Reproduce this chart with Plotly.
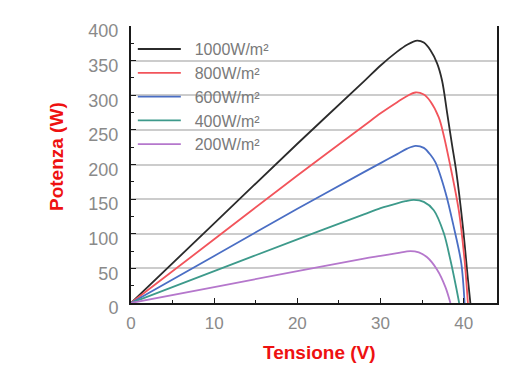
import plotly.graph_objects as go

labels = ["1000W/m²", "800W/m²", "600W/m²", "400W/m²", "200W/m²"]
colors = ["#2b2b2b", "#f2545b", "#4a6ec4", "#3d9a8b", "#b577cc"]

v_1000 = [0, 10, 20, 28, 30, 32, 33.2, 34.4, 35.2, 36.0, 36.8, 37.4, 38.0, 38.6, 39.1, 39.9, 40.5, 40.8]
p_1000 = [0, 115, 230, 320, 343, 363, 373, 379, 376, 365, 346, 321, 275, 228, 190, 110, 35, 0]

v_800 = [0, 10, 20, 28, 30, 32, 33.2, 34.2, 35.2, 36.0, 37.0, 37.6, 38.3, 39.4, 40.1, 40.5]
p_800 = [0, 92, 184, 256, 274, 290, 299, 304, 301, 291, 268, 242, 203, 134, 62, 0]

v_600 = [0, 10, 20, 28, 30, 32, 33.2, 34.2, 35.2, 36.0, 36.6, 37.8, 38.8, 39.7, 40.1]
p_600 = [0, 68, 136, 189, 202, 215, 223, 227, 224, 214, 203, 160, 110, 58, 0]

v_400 = [0, 10, 20, 28, 30, 32, 33.0, 34.0, 35.2, 36.4, 37.6, 38.4, 39.1, 39.45]
p_400 = [0, 46, 92, 128, 137, 144, 147, 149, 146, 134, 101, 62, 22, 0]

v_200 = [0, 10, 20, 28, 30, 32, 33.6, 34.6, 35.6, 36.8, 37.8, 38.4]
p_200 = [0, 23, 46, 64, 68, 72, 75, 73, 66, 48, 23, 0]

series = [(v_1000, p_1000), (v_800, p_800), (v_600, p_600), (v_400, p_400), (v_200, p_200)]

x_ticks = [0, 10, 20, 30, 40]
y_ticks = [0, 50, 100, 150, 200, 250, 300, 350, 400]

fig = go.Figure()
for (v, p), name, c in zip(series, labels, colors):
    fig.add_trace(go.Scatter(
        x=v, y=p, mode="lines", name="\u00a0\u00a0" + name,
        line=dict(color=c, width=1.8, shape="spline", smoothing=0.9),
    ))

FONT = "Liberation Sans, Arial, sans-serif"

fig.update_layout(
    width=522, height=369,
    margin=dict(l=131, r=25, t=26, b=66),
    paper_bgcolor="white", plot_bgcolor="white",
    showlegend=True,
    legend=dict(
        x=0.005, y=0.978, xanchor="left", yanchor="top",
        bgcolor="rgba(0,0,0,0)",
        font=dict(family=FONT, size=16, color="#7a7a7a"),
        itemwidth=43,
    ),
    xaxis=dict(
        range=[0, 44], tickvals=x_ticks, ticktext=[str(t) for t in x_ticks],
        showgrid=False, zeroline=False,
        showline=True, linecolor="#1a1a1a", linewidth=2,
        ticks="inside", ticklen=5, tickcolor="#1a1a1a",
        minor=dict(ticks="inside", ticklen=3, dtick=5, tickcolor="#1a1a1a"),
        tickfont=dict(family=FONT, size=17, color="#8a8a8a"), ticklabelstandoff=4,
    ),
    yaxis=dict(
        range=[0, 400], tickvals=y_ticks, ticktext=[str(t) for t in y_ticks],
        showgrid=True, gridcolor="#cccccc", gridwidth=2,
        zeroline=False,
        showline=True, linecolor="#1a1a1a", linewidth=2, mirror=True,
        ticks="inside", ticklen=5, tickcolor="#1a1a1a",
        minor=dict(ticks="inside", ticklen=3, dtick=25, tickcolor="#1a1a1a"),
        tickfont=dict(family=FONT, size=18, color="#8a8a8a"),
        ticklabelstandoff=7, ticklabelshift=5,
    ),
    annotations=[
        dict(text="<b>Potenza (W)</b>", xref="paper", yref="paper",
             x=0, y=0.5, xshift=-87, yshift=8, textangle=-90,
             showarrow=False, font=dict(family=FONT, size=19, color="#ee1111")),
        dict(text="<b>Tensione (V)</b>", xref="paper", yref="paper",
             x=0.5, y=0, xshift=5, yshift=-62,
             showarrow=False, font=dict(family=FONT, size=19, color="#ee1111")),
    ],
)

fig.write_html(
    "out.html",
    config={"displayModeBar": False},
    post_script="document.body.style.margin='0px';document.body.style.overflow='hidden';",
)
